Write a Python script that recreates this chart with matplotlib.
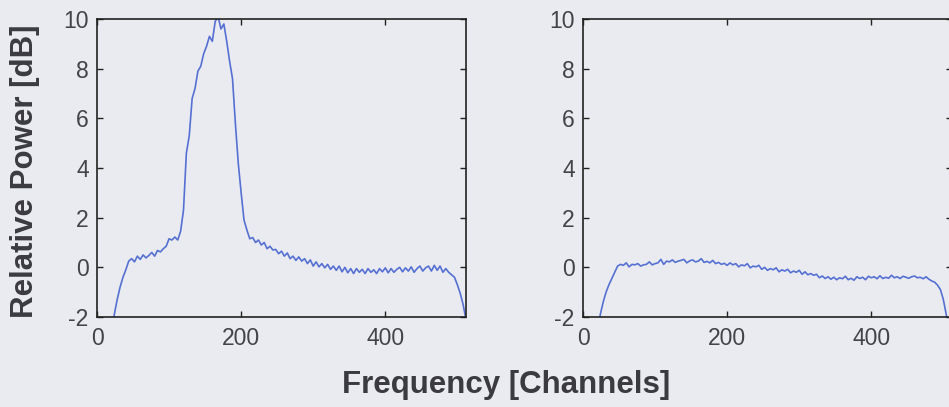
import numpy as np
from matplotlib import pyplot as plt

# channel grid (every 4th channel)
channels = np.arange(0, 513, 4)

# left panel: relative power with interference peak
power_left = [
    -9, -8, -6.5, -5, -3.8, -2.8, -1.9, -1.3, -0.8, -0.4,
    -0.1, 0.25, 0.35, 0.22, 0.45, 0.32, 0.5, 0.38, 0.48, 0.6,
    0.45, 0.68, 0.62, 0.75, 0.85, 1.15, 1.1, 1.22, 1.1, 1.45,
    2.3, 4.6, 5.3, 6.8, 7.2, 7.9, 8.1, 8.6, 8.9, 9.3,
    9.1, 9.9, 10.1, 9.6, 9.8, 9.1, 8.3, 7.6, 5.8, 4.2,
    3.0, 1.9, 1.5, 1.15, 1.2, 1.0, 1.1, 0.9, 1.0, 0.75,
    0.85, 0.7, 0.72, 0.55, 0.65, 0.45, 0.58, 0.35, 0.45, 0.28,
    0.42, 0.25, 0.35, 0.15, 0.3, 0.05, 0.22, 0.02, 0.15, -0.02,
    0.12, -0.08, 0.05, -0.12, 0.05, -0.18, 0.0, -0.22, -0.05, -0.25,
    -0.05, -0.2, -0.08, -0.25, -0.05, -0.2, -0.1, -0.25, -0.05, -0.18,
    -0.02, -0.22, -0.05, -0.2, -0.08, 0.0, -0.18, -0.02, -0.15, 0.02,
    -0.2, -0.05, 0.05, -0.15, -0.02, 0.05, -0.15, 0.08, -0.12, 0.05,
    -0.2, -0.05, -0.2, -0.3, -0.4, -0.7, -1.05, -1.5, -2.1,
]

# right panel: relative power after mitigation
power_right = [
    -9, -8, -6.5, -5, -3.8, -2.7, -1.9, -1.4, -1.0, -0.7,
    -0.45, -0.2, 0.05, 0.12, 0.08, 0.18, 0.02, 0.12, 0.1, 0.15,
    0.05, 0.1, 0.12, 0.22, 0.1, 0.15, 0.18, 0.32, 0.12, 0.25,
    0.22, 0.3, 0.2, 0.25, 0.28, 0.32, 0.18, 0.26, 0.3, 0.22,
    0.25, 0.35, 0.2, 0.24, 0.18, 0.28, 0.15, 0.2, 0.12, 0.16,
    0.08, 0.18, 0.1, 0.15, 0.02, 0.1, 0.06, 0.15, -0.02, 0.05,
    0.02, 0.08, -0.08, 0.0, -0.12, -0.05, -0.1, -0.02, -0.18, -0.1,
    -0.15, -0.08, -0.22, -0.15, -0.2, -0.12, -0.28, -0.18, -0.3, -0.25,
    -0.32, -0.28, -0.42, -0.35, -0.45, -0.38, -0.48, -0.4, -0.5, -0.42,
    -0.46, -0.36, -0.5, -0.44, -0.52, -0.38, -0.45, -0.4, -0.5, -0.36,
    -0.42, -0.38, -0.46, -0.34, -0.45, -0.4, -0.44, -0.32, -0.42, -0.38,
    -0.45, -0.36, -0.4, -0.44, -0.38, -0.35, -0.42, -0.4, -0.46, -0.38,
    -0.48, -0.55, -0.6, -0.72, -0.9, -1.3, -1.9, -2.6, -3.5,
]

x_ticks = [0, 200, 400]
y_ticks = [-2, 0, 2, 4, 6, 8, 10]

bg = '#e9ebf0'
line_color = '#5570d2'
text_color = '#3a3a40'

plt.rcParams['font.family'] = ['Liberation Sans', 'DejaVu Sans']
plt.rcParams['axes.unicode_minus'] = False

fig = plt.figure(figsize=(9.49, 4.07), dpi=100, facecolor=bg)
ax1 = fig.add_axes([97 / 949, 90 / 407, 369 / 949, 298 / 407])
ax2 = fig.add_axes([583 / 949, 90 / 407, 369 / 949, 298 / 407])

for ax, power in ((ax1, power_left), (ax2, power_right)):
    ax.set_facecolor(bg)
    ax.plot(channels, power, color=line_color, lw=1.2)
    ax.set_xlim(0, 512)
    ax.set_ylim(-2, 10)
    ax.set_xticks(x_ticks)
    ax.set_yticks(y_ticks)
    ax.tick_params(direction='in', length=4, width=1, top=True, right=True,
                   labelsize=16.5, labelcolor='#444448', color='#222222')
    ax.tick_params(axis='x', pad=7)
    ax.tick_params(axis='y', pad=6)
    for s in ax.spines.values():
        s.set_color('#222222')
        s.set_linewidth(1.2)

fig.text(25 / 949, 1 - 171 / 407, 'Relative Power [dB]', rotation=90,
         ha='center', va='center', fontsize=22.5, fontweight='bold', color=text_color)
fig.text(506 / 949, 1 - 385 / 407, 'Frequency [Channels]',
         ha='center', va='center', fontsize=22.5, fontweight='bold', color=text_color)

plt.savefig('out.png', dpi=100, facecolor=bg)
